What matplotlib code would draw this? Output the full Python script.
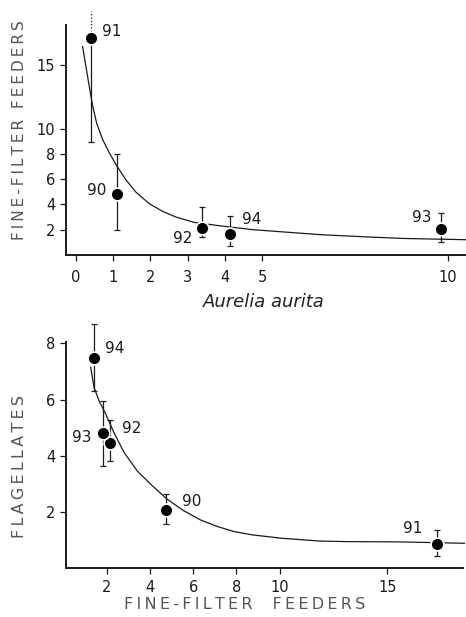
import matplotlib.pyplot as plt

plt.rcParams['font.family'] = ['DejaVu Sans']

# ==== data (years 1990-1994) ====
years = ['90', '91', '92', '93', '94']

# top panel: Aurelia aurita vs fine-filter feeders
aurelia = [1.1, 0.4, 3.4, 9.8, 4.15]
ff_mean = [4.83, 17.2, 2.14, 2.06, 1.66]
ff_lo = [1.95, 8.98, 1.45, 1.0, 0.68]
ff_hi = [7.96, 19.3, 3.77, 3.32, 3.05]

# fitted curve, points
curve1_x = [0.18, 0.27, 0.36, 0.45, 0.56, 0.72, 0.90, 1.08, 1.34, 1.61, 1.97,
            2.33, 2.69, 3.18, 4.0, 4.77, 6.56, 7.90, 8.79, 10.48]
curve1_y = [16.5, 14.9, 13.3, 11.8, 10.4, 9.12, 8.07, 7.14, 5.96, 4.98, 4.06,
            3.45, 3.0, 2.58, 2.26, 2.0, 1.61, 1.42, 1.31, 1.21]

# bottom panel: fine-filter feeders vs flagellates
ff_x = [4.76, 17.3, 2.14, 1.80, 1.41]
flag_mean = [2.06, 0.87, 4.47, 4.80, 7.47]
flag_lo = [1.56, 0.43, 3.82, 3.64, 6.32]
flag_hi = [2.63, 1.35, 5.27, 5.96, 8.70]

curve2_x = [1.25, 1.40, 1.63, 1.94, 2.32, 2.79, 3.40, 4.02, 4.79, 5.56, 6.34,
            7.11, 7.88, 8.73, 10.09, 11.86, 13.1, 15.56, 18.57]
curve2_y = [7.15, 6.44, 5.96, 5.49, 4.83, 4.12, 3.46, 2.99, 2.45, 2.04, 1.71,
            1.48, 1.30, 1.18, 1.06, 0.96, 0.94, 0.93, 0.88]

top_xticks = [0, 1, 2, 3, 4, 5, 10]
top_yticks = [2, 4, 6, 8, 10, 15]
bot_xticks = [2, 4, 6, 8, 10, 15]
bot_yticks = [2, 4, 6, 8]

# label offsets (pixels) and alignment per year
top_offsets = {'90': (-10, 3, 'right'), '91': (11, 6, 'left'), '92': (-10, -11, 'right'),
               '93': (-9, 11, 'right'), '94': (12, 15, 'left')}
bot_offsets = {'90': (16, 9, 'left'), '91': (-15, 15, 'right'), '92': (12, 14, 'left'),
               '93': (-11, -4, 'right'), '94': (11, 10, 'left')}

W, H = 466, 617
LABEL_GRAY = '#555555'
INK = '#1a1a1a'


def spaced(text):
    return '\u2009'.join(text)


def style_axes(ax, xpad=6):
    for side in ['top', 'right']:
        ax.spines[side].set_visible(False)
    for side in ['left', 'bottom']:
        ax.spines[side].set_linewidth(1.4)
        ax.spines[side].set_color(INK)
    ax.tick_params(axis='both', direction='out', length=4.5, width=0.9,
                   colors=INK, labelsize=10.5)
    ax.tick_params(axis='x', pad=xpad)
    ax.tick_params(axis='y', pad=3)


def draw_panel(ax, x, y, lo, hi, cx, cy, offsets):
    ax.plot(cx, cy, color=INK, lw=0.9, zorder=1, clip_on=False)
    yerr = [[m - l for m, l in zip(y, lo)], [h - m for m, h in zip(y, hi)]]
    ax.errorbar(x, y, yerr=yerr, fmt='none', ecolor=INK, elinewidth=0.9,
                capsize=2, capthick=0.9, zorder=2, clip_on=False)
    ax.plot(x, y, 'o', color='black', ms=9.2, mec='white', mew=1.2, zorder=3,
            clip_on=False)
    for xi, yi, yr in zip(x, y, years):
        dx, dy, ha = offsets[yr]
        ax.annotate(yr, (xi, yi), xytext=(dx, dy), textcoords='offset pixels',
                    ha=ha, va='center', fontsize=11, color=INK)


fig = plt.figure(figsize=(W / 100, H / 100), dpi=100)

# ---- top panel ----
ax1 = fig.add_axes([65.5 / W, 1 - 255 / H, (W - 65.5) / W, (255 - 25) / H])
style_axes(ax1)
# 1991 upper error runs off the scale (dotted in the original)
i91 = years.index('91')
yerr_top_hi = list(ff_hi)
yerr_top_hi[i91] = ff_mean[i91]
draw_panel(ax1, aurelia, ff_mean, ff_lo, yerr_top_hi, curve1_x, curve1_y, top_offsets)
ax1.vlines(aurelia[i91], ff_mean[i91], ff_hi[i91], colors=INK, linestyles=':',
           lw=0.9, zorder=2, clip_on=False)
ax1.set_xlim(-0.28, 10.48)
ax1.set_ylim(0, 18.2)
ax1.set_xticks(top_xticks)
ax1.set_yticks(top_yticks)

# ---- bottom panel ----
ax2 = fig.add_axes([65.5 / W, 1 - 568 / H, (463 - 65.5) / W, (568 - 342) / H])
style_axes(ax2, xpad=4.5)
draw_panel(ax2, ff_x, flag_mean, flag_lo, flag_hi, curve2_x, curve2_y, bot_offsets)
ax2.set_xlim(0.08, 18.5)
ax2.set_ylim(0, 8.05)
ax2.set_xticks(bot_xticks)
ax2.set_yticks(bot_yticks)

# ---- axis titles ----
fig.text(264 / W, 1 - 301.7 / H, 'Aurelia aurita', style='italic', fontsize=13,
         color='#222222', ha='center', va='center')
fig.text(20 / W, 1 - 130 / H, spaced('FINE-FILTER FEEDERS'), rotation=90, fontsize=11,
         color=LABEL_GRAY, ha='center', va='center')
fig.text(20 / W, 1 - 466 / H, spaced('FLAGELLATES'), rotation=90, fontsize=11.5,
         color=LABEL_GRAY, ha='center', va='center')
fig.text(245 / W, 1 - 604.5 / H, spaced('FINE-FILTER  FEEDERS'), fontsize=11.5,
         color=LABEL_GRAY, ha='center', va='center')

fig.savefig('out.png', dpi=100)
